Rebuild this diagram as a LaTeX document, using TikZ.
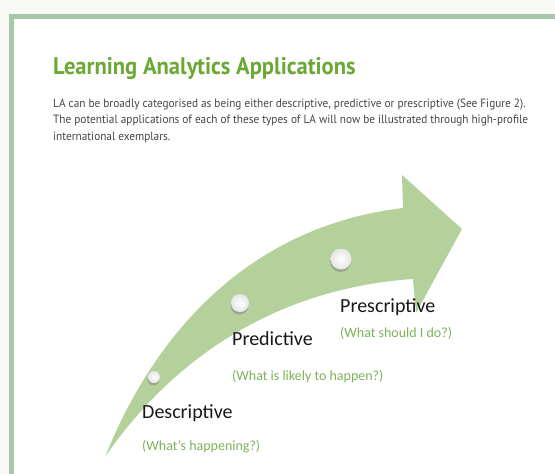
\documentclass[tikz,border=0pt]{standalone}
\usepackage{fontspec}
\setmainfont{Carlito}
\newfontfamily\dinfont[FakeStretch=0.94]{PT Sans}
\usetikzlibrary{shadows}

\definecolor{backdrop}{RGB}{249,249,246}
\definecolor{frame}{RGB}{168,200,170}
\definecolor{titlegreen}{RGB}{108,168,52}
\definecolor{bodygray}{RGB}{70,70,70}
\definecolor{arrowgreen}{RGB}{180,209,156}
\definecolor{askgreen}{RGB}{125,178,90}

\begin{document}
\begin{tikzpicture}[x=1pt,y=-1pt]
        \tikzstyle{intro}=[anchor=base west,inner sep=0pt,text=bodygray,font=\dinfont\fontsize{12}{14}\selectfont]
        \tikzstyle{stage}=[anchor=base west,inner sep=0pt,text=black!90,font=\fontsize{20}{24}\selectfont]
        \tikzstyle{question}=[anchor=base west,inner sep=0pt,text=askgreen,font=\fontsize{14}{17}\selectfont]
        \tikzstyle{pearl}=[circle,inner sep=0pt,inner color=white,outer color=black!10,
            drop shadow={opacity=0.5,shadow xshift=-0.5pt,shadow yshift=-2.5pt}]
        % page and frame
        \fill[backdrop] (0,0) rectangle (555,474);
        \fill[white] (14,19) rectangle (555,474);
        \fill[frame] (9,14) rectangle (555,19);
        \fill[frame] (9,14) rectangle (14,474);
        \node[anchor=base west,inner sep=0pt,text=titlegreen,font=\dinfont\bfseries\fontsize{24}{28}\selectfont] (title) at (53,74) {Learning Analytics Applications};
        \node[intro] (intro1) at (53,107) {LA can be broadly categorised as being either descriptive, predictive or prescriptive (See Figure 2).};
        \node[intro] (intro2) at (53,123.5) {The potential applications of each of these types of LA will now be illustrated through high-profile};
        \node[intro] (intro3) at (53,140) {international exemplars.};
        % the curved arrow
        \fill[arrowgreen] (105,457) .. controls (160,320) and (260,225) .. (403,208) -- (402,175) -- (462,229)
            -- (416,313) -- (413,279) .. controls (280,288) and (175,355) .. (105,457) -- cycle;
        \node[pearl,minimum size=12pt] (b1) at (154,377) {};
        \node[pearl,minimum size=18pt] (b2) at (240,303) {};
        \node[pearl,minimum size=21pt] (b3) at (341,259) {};
        \node[stage] (desc) at (142,418) {Descriptive};
        \node[question] (descq) at (142,450) {(What's happening?)};
        \node[stage] (pred) at (232,345) {Predictive};
        \node[question] (predq) at (232,380) {(What is likely to happen?)};
        \node[stage] (presc) at (340,312) {Prescriptive};
        \node[question] (prescq) at (340,337) {(What should I do?)};
    \end{tikzpicture}
\end{document}
